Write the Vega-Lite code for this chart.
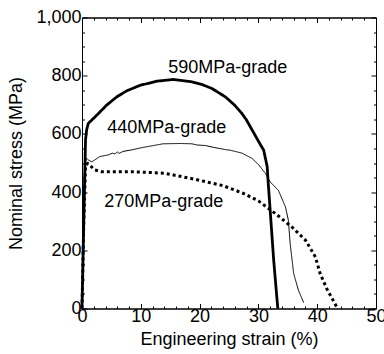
{
  "$schema": "https://vega.github.io/schema/vega-lite/v6.json",
  "autosize": {"type": "none"},
  "width": 294,
  "height": 291,
  "padding": {"left": 82, "top": 17.5, "right": 8, "bottom": 45.5},
  "background": "white",
  "config": {
    "font": "Liberation Sans",
    "view": {"stroke": "black", "strokeWidth": 1},
    "axis": {
      "domainColor": "black", "tickColor": "black", "labelColor": "black", "titleColor": "black",
      "labelFont": "Liberation Sans", "titleFont": "Liberation Sans",
      "labelFontSize": 18, "titleFontSize": 18, "titleFontWeight": "normal",
      "grid": false, "domainWidth": 1, "tickWidth": 1
    }
  },
  "datasets": {
    "curves": [
      {"s": "590", "o": 1, "x": 0, "y": 0},
      {"s": "590", "o": 2, "x": 0.3, "y": 300},
      {"s": "590", "o": 3, "x": 0.6, "y": 580},
      {"s": "590", "o": 4, "x": 0.8, "y": 615},
      {"s": "590", "o": 5, "x": 1.07, "y": 636},
      {"s": "590", "o": 6, "x": 2.5, "y": 664},
      {"s": "590", "o": 7, "x": 4.2, "y": 699},
      {"s": "590", "o": 8, "x": 5.9, "y": 727},
      {"s": "590", "o": 9, "x": 7.6, "y": 748},
      {"s": "590", "o": 10, "x": 9.9, "y": 767},
      {"s": "590", "o": 11, "x": 12.7, "y": 781},
      {"s": "590", "o": 12, "x": 15.5, "y": 787},
      {"s": "590", "o": 13, "x": 18.7, "y": 779},
      {"s": "590", "o": 14, "x": 20.5, "y": 769},
      {"s": "590", "o": 15, "x": 22.1, "y": 756},
      {"s": "590", "o": 16, "x": 24.4, "y": 727},
      {"s": "590", "o": 17, "x": 26.0, "y": 698},
      {"s": "590", "o": 18, "x": 27.2, "y": 670},
      {"s": "590", "o": 19, "x": 28.0, "y": 647},
      {"s": "590", "o": 20, "x": 30.0, "y": 575},
      {"s": "590", "o": 21, "x": 30.9, "y": 544},
      {"s": "590", "o": 22, "x": 31.5, "y": 487},
      {"s": "590", "o": 23, "x": 31.6, "y": 452},
      {"s": "590", "o": 24, "x": 32.0, "y": 338},
      {"s": "590", "o": 25, "x": 32.6, "y": 166},
      {"s": "590", "o": 26, "x": 33.3, "y": 0},
      {"s": "440", "o": 1, "x": 0, "y": 0},
      {"s": "440", "o": 2, "x": 0.3, "y": 300},
      {"s": "440", "o": 3, "x": 0.5, "y": 500},
      {"s": "440", "o": 4, "x": 0.8, "y": 516},
      {"s": "440", "o": 5, "x": 1.1, "y": 510},
      {"s": "440", "o": 6, "x": 1.65, "y": 504},
      {"s": "440", "o": 7, "x": 2.5, "y": 515},
      {"s": "440", "o": 8, "x": 3.0, "y": 522},
      {"s": "440", "o": 9, "x": 4.5, "y": 528},
      {"s": "440", "o": 10, "x": 5.2, "y": 534},
      {"s": "440", "o": 11, "x": 5.6, "y": 531},
      {"s": "440", "o": 12, "x": 6.0, "y": 538},
      {"s": "440", "o": 13, "x": 6.3, "y": 533},
      {"s": "440", "o": 14, "x": 7.0, "y": 540},
      {"s": "440", "o": 15, "x": 8.2, "y": 544},
      {"s": "440", "o": 16, "x": 10.0, "y": 552},
      {"s": "440", "o": 17, "x": 11.6, "y": 558},
      {"s": "440", "o": 18, "x": 13.8, "y": 566},
      {"s": "440", "o": 19, "x": 16.7, "y": 567},
      {"s": "440", "o": 20, "x": 18.7, "y": 566},
      {"s": "440", "o": 21, "x": 19.5, "y": 562},
      {"s": "440", "o": 22, "x": 21.0, "y": 560},
      {"s": "440", "o": 23, "x": 22.3, "y": 554},
      {"s": "440", "o": 24, "x": 24.4, "y": 546},
      {"s": "440", "o": 25, "x": 25.2, "y": 544},
      {"s": "440", "o": 26, "x": 27.2, "y": 534},
      {"s": "440", "o": 27, "x": 28.9, "y": 516},
      {"s": "440", "o": 28, "x": 30.0, "y": 495},
      {"s": "440", "o": 29, "x": 31.2, "y": 464},
      {"s": "440", "o": 30, "x": 32.0, "y": 435},
      {"s": "440", "o": 31, "x": 33.4, "y": 406},
      {"s": "440", "o": 32, "x": 34.6, "y": 349},
      {"s": "440", "o": 33, "x": 35.1, "y": 303},
      {"s": "440", "o": 34, "x": 35.4, "y": 223},
      {"s": "440", "o": 35, "x": 36.0, "y": 120},
      {"s": "440", "o": 36, "x": 36.8, "y": 63},
      {"s": "440", "o": 37, "x": 37.7, "y": 20},
      {"s": "270", "o": 1, "x": 0, "y": 0},
      {"s": "270", "o": 2, "x": 0.3, "y": 300},
      {"s": "270", "o": 3, "x": 0.6, "y": 490},
      {"s": "270", "o": 4, "x": 0.97, "y": 499},
      {"s": "270", "o": 5, "x": 2.2, "y": 476},
      {"s": "270", "o": 6, "x": 3.35, "y": 470},
      {"s": "270", "o": 7, "x": 8.5, "y": 470},
      {"s": "270", "o": 8, "x": 14.0, "y": 465},
      {"s": "270", "o": 9, "x": 19.0, "y": 445},
      {"s": "270", "o": 10, "x": 24.0, "y": 422},
      {"s": "270", "o": 11, "x": 27.4, "y": 396},
      {"s": "270", "o": 12, "x": 30.0, "y": 370},
      {"s": "270", "o": 13, "x": 32.9, "y": 326},
      {"s": "270", "o": 14, "x": 35.7, "y": 280},
      {"s": "270", "o": 15, "x": 38.0, "y": 235},
      {"s": "270", "o": 16, "x": 39.7, "y": 177},
      {"s": "270", "o": 17, "x": 40.5, "y": 120},
      {"s": "270", "o": 18, "x": 41.6, "y": 69},
      {"s": "270", "o": 19, "x": 43.3, "y": 6}
    ],
    "labels": [
      {"label": "590MPa-grade", "x": 24.8, "y": 826},
      {"label": "440MPa-grade", "x": 14.4, "y": 620},
      {"label": "270MPa-grade", "x": 13.9, "y": 366}
    ]
  },
  "layer": [
    {
      "data": {"name": "curves"},
      "mark": {"type": "line", "color": "black", "strokeCap": "butt", "strokeJoin": "round"},
      "encoding": {
        "x": {
          "field": "x", "type": "quantitative",
          "scale": {"domain": [0, 50], "nice": false, "zero": false},
          "axis": {
            "orient": "bottom", "title": "Engineering strain (%)",
            "values": [0,2,4,6,8,10,12,14,16,18,20,22,24,26,28,30,32,34,36,38,40,42,44,46,48,50],
            "labelExpr": "datum.value % 10 === 0 ? format(datum.value, 'd') : ''",
            "tickSize": {"condition": {"test": "datum.value % 10 === 0", "value": -5}, "value": -2.5},
            "labelPadding": 4, "labelFlush": false, "labelOverlap": false, "titlePadding": 2
          }
        },
        "y": {
          "field": "y", "type": "quantitative",
          "scale": {"domain": [0, 1000], "nice": false},
          "axis": {
            "orient": "left", "title": "Nominal stress (MPa)",
            "values": [0,50,100,150,200,250,300,350,400,450,500,550,600,650,700,750,800,850,900,950,1000],
            "labelExpr": "datum.value % 200 === 0 ? format(datum.value, ',d') : ''",
            "tickSize": {"condition": {"test": "datum.value % 200 === 0", "value": -5}, "value": -2.5},
            "labelPadding": 6, "labelFlush": false, "labelOverlap": false, "titlePadding": 10
          }
        },
        "detail": {"field": "s", "type": "nominal"},
        "order": {"field": "o", "type": "quantitative"},
        "strokeWidth": {"field": "s", "type": "nominal", "scale": {"type": "ordinal", "domain": ["590", "440", "270"], "range": [2.8, 1, 3]}, "legend": null},
        "strokeDash": {"field": "s", "type": "nominal", "scale": {"type": "ordinal", "domain": ["590", "440", "270"], "range": [[1, 0], [1, 0], [3, 3]]}, "legend": null}
      }
    },
    {
      "data": {"name": "labels"},
      "mark": {"type": "text", "font": "Liberation Sans", "fontSize": 18, "color": "black", "align": "center", "baseline": "middle"},
      "encoding": {
        "x": {
          "field": "x", "type": "quantitative",
          "axis": {
            "orient": "top", "title": null, "labels": false,
            "values": [0,2,4,6,8,10,12,14,16,18,20,22,24,26,28,30,32,34,36,38,40,42,44,46,48,50],
            "tickSize": {"condition": {"test": "datum.value % 10 === 0", "value": -5}, "value": -2.5}
          }
        },
        "y": {
          "field": "y", "type": "quantitative",
          "axis": {
            "orient": "right", "title": null, "labels": false,
            "values": [0,50,100,150,200,250,300,350,400,450,500,550,600,650,700,750,800,850,900,950,1000],
            "tickSize": {"condition": {"test": "datum.value % 200 === 0", "value": -5}, "value": -2.5}
          }
        },
        "text": {"field": "label", "type": "nominal"}
      }
    }
  ],
  "resolve": {"scale": {"x": "shared", "y": "shared"}, "axis": {"x": "independent", "y": "independent"}}
}
